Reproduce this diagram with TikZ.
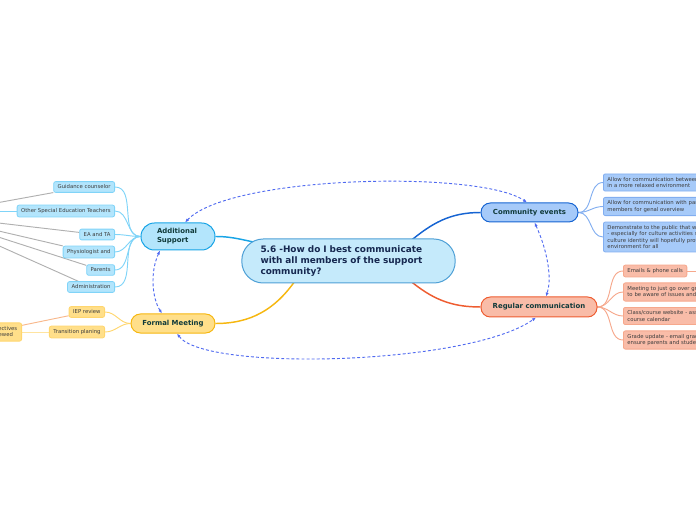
\documentclass[tikz,border=0pt]{standalone}
\usepackage{fontspec}
\setmainfont{DejaVu Sans}
\usetikzlibrary{arrows.meta,backgrounds,calc}

\definecolor{centrefill}{RGB}{197,234,251}
\definecolor{centreline}{RGB}{78,160,214}
\definecolor{centretext}{RGB}{22,40,80}
\definecolor{branchtext}{RGB}{16,58,58}
\definecolor{leaftext}{RGB}{60,60,60}
\definecolor{asfill}{RGB}{179,229,252}
\definecolor{asline}{RGB}{24,164,230}
\definecolor{asleafline}{RGB}{128,212,248}
\definecolor{fmfill}{RGB}{255,223,138}
\definecolor{fmline}{RGB}{246,183,16}
\definecolor{fmleafline}{RGB}{255,214,110}
\definecolor{fmtwig}{RGB}{255,228,160}
\definecolor{cefill}{RGB}{166,202,249}
\definecolor{celine}{RGB}{22,100,210}
\definecolor{celeafline}{RGB}{130,174,240}
\definecolor{rcfill}{RGB}{249,188,168}
\definecolor{rcline}{RGB}{238,92,48}
\definecolor{rcleafline}{RGB}{246,168,140}
\definecolor{linkblue}{RGB}{80,106,240}
\definecolor{greyline}{RGB}{176,176,176}
\definecolor{iepline}{RGB}{248,184,140}

\tikzset{every picture/.style={line width=0.75pt}}
\tikzset{
  centre/.style={draw=centreline, fill=centrefill, rounded corners=16pt,
    minimum height=33pt, text width=132pt, inner xsep=14pt, inner ysep=0pt, align=left,
    font=\fontsize{6.7}{8.25}\selectfont\bfseries, text=centretext},
  branch/.style={rounded corners=7pt, minimum height=14.25pt, inner ysep=0pt,
    font=\fontsize{5.2}{6.75}\selectfont\bfseries, text=branchtext},
  leaf/.style={rounded corners=1.5pt, line width=0.6pt, inner xsep=3pt, inner ysep=2.5pt,
    font=\fontsize{4}{4.8}\selectfont, text=leaftext, align=left},
  asleaf/.style={leaf, draw=asleafline, fill=asfill},
  fmleaf/.style={leaf, draw=fmleafline, fill=fmfill},
  celeaf/.style={leaf, draw=celeafline, fill=cefill, anchor=west, text width=150pt},
  rcleaf/.style={leaf, draw=rcleafline, fill=rcfill, anchor=west},
  limb/.style={line width=1.1pt},
  twig/.style={line width=0.7pt},
  link/.style={linkblue, line width=0.7pt, dash pattern=on 2.2pt off 1.6pt,
    {Latex[length=3pt,width=2.4pt]}-{Latex[length=3pt,width=2.4pt]}},
}

\begin{document}
\begin{tikzpicture}[x=0.75pt,y=0.75pt,yscale=-1,xscale=1]
\useasboundingbox (0,0) rectangle (696,520);
\clip (0,0) rectangle (696,520);

% Text Node
\draw (348.5,261) node (centre) [centre] {5.6 -How do I best communicate\\with all members of the support\\community?};
% Text Node
\draw (178,236.5) node (as) [branch, draw=asline, fill=asfill, rounded corners=10pt, minimum height=20.25pt, text width=31.5pt, inner xsep=12pt, align=left] {Additional\\Support};
% Text Node
\draw (173,323.5) node (fm) [branch, draw=fmline, fill=fmfill, minimum width=63pt] {Formal Meeting};
% Text Node
\draw (529.5,212.5) node (ce) [branch, draw=celine, fill=cefill, minimum width=72.75pt] {Community events};
% Text Node
\draw (539,307) node (rc) [branch, draw=rcline, fill=rcfill, minimum width=87pt, minimum height=15pt] {Regular communication};

% Text Node
\draw (115,187) node (gc) [asleaf, anchor=east] {Guidance counselor};
\draw (115,211) node (oset) [asleaf, anchor=east] {Other Special Education Teachers};
\draw (115,234.5) node (eata) [asleaf, anchor=east] {EA and TA};
\draw (115,252) node (phys) [asleaf, anchor=east] {Physiologist and};
\draw (115,270) node (par) [asleaf, anchor=east] {Parents};
\draw (115,287) node (adm) [asleaf, anchor=east] {Administration};

% Text Node
\draw (105,312) node (iep) [fmleaf, anchor=east] {IEP review};
\draw (105,332) node (trans) [fmleaf, anchor=east] {Transition planing};
\draw (22,332) node (obj) [fmleaf, anchor=east, text width=42pt] {Goals and objectives\\are being reviewed};

% Text Node
\draw (603,182.5) node (ce1) [celeaf] {Allow for communication between parents and teachers\\in a more relaxed environment};
\draw (603,206.5) node (ce2) [celeaf] {Allow for communication with parents and community\\members for genal overview};
\draw (603,237) node (ce3) [celeaf] {Demonstrate to the public that we value diversity\\- especially for culture activities so that students\\culture identity will hopefully provide a safe\\environment for all};

% Text Node
\draw (623,271) node (rc1) [rcleaf] {Emails \& phone calls};
\draw (623,292) node (rc2) [rcleaf, text width=150pt] {Meeting to just go over grades and for parents\\to be aware of issues and progress};
\draw (623,316) node (rc3) [rcleaf, text width=150pt] {Class/course website - assignments and\\course calendar};
\draw (623,340) node (rc4) [rcleaf, text width=150pt] {Grade update - email grades regularly to\\ensure parents and students know};

\coordinate (offleft) at (-70,215);
\coordinate (osetfar) at (-40,211);
\coordinate (offright) at (730,271);

\begin{scope}[on background layer]
% Connection
\draw [asline, limb] (as.east) to[out=0,in=190] ($(centre.north west)+(20,5)$);
% Connection
\draw [fmline, limb] (fm.east) to[out=0,in=125] ($(centre.south west)+(54,-3)$);
% Connection
\draw [celine, limb] ($(centre.north east)+(-47,4)$) to[out=-40,in=180] (ce.west);
% Connection
\draw [rcline, limb] ($(centre.south east)+(-47,-4)$) to[out=40,in=180] (rc.west);

% Connection
\foreach \leafname in {gc,oset,eata,phys,par,adm}
  \draw [asleafline, twig] (as.west) to[out=180,in=0] (\leafname.east);
\foreach \leafname in {iep,trans}
  \draw [fmleafline, twig] (fm.west) to[out=180,in=0] (\leafname.east);
\foreach \leafname in {ce1,ce2,ce3}
  \draw [celeafline, twig] (ce.east) to[out=0,in=180] (\leafname.west);
\foreach \leafname in {rc1,rc2,rc3,rc4}
  \draw [rcleafline, twig] (rc.east) to[out=0,in=180] (\leafname.west);

% Connection
\foreach \leafname in {gc,eata,phys,par,adm}
  \draw [greyline, twig] (offleft) -- (\leafname);
\draw [asleafline, twig] (osetfar) -- (oset.west);
\draw [fmtwig, twig] (trans.west) -- (obj.east);
\draw [iepline, twig] (iep) -- (obj);
\draw [rcleafline, twig] (rc1.east) -- (offright);
\end{scope}

% Connection
\draw [link] ($(as.north)+(7,0)$) .. controls (230,175) and (480,170) .. ($(ce.north)+(-2.5,0)$);
% Connection
\draw [link] ($(as.south)+(-18,0)$) .. controls (150,272) and (152,298) .. ($(fm.north)+(-11,0)$);
% Connection
\draw [link] ($(fm.south)+(4,0)$) .. controls (205,372) and (470,365) .. ($(rc.south)+(-3,0)$);
% Connection
\draw [link] ($(ce.south)+(5,0)$) .. controls (545,245) and (553,275) .. ($(rc.north)+(7,0)$);

\end{tikzpicture}
\end{document}
